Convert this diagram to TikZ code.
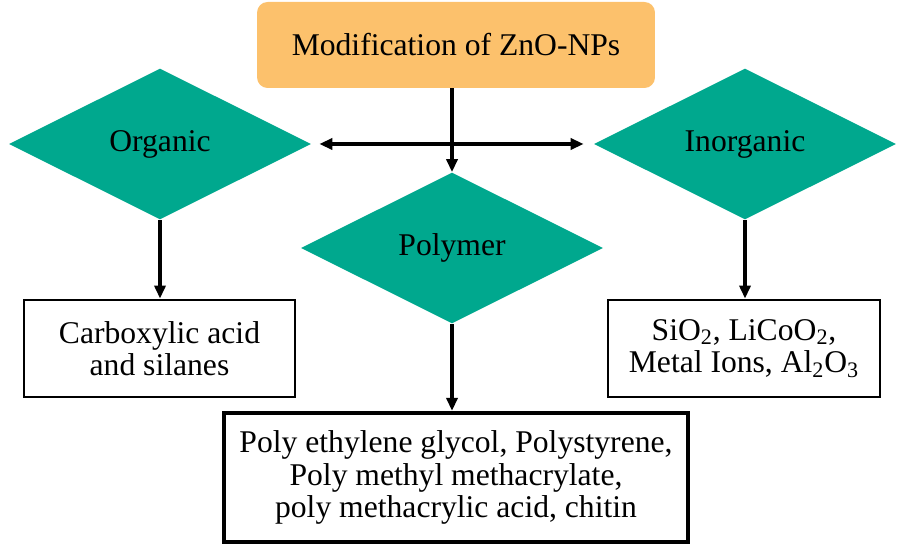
\documentclass[tikz,border=0pt]{standalone}
\usepackage{fontspec}
\setmainfont{Liberation Serif}
\usepackage{tikz}
\usetikzlibrary{arrows.meta,positioning,shapes.geometric}
\definecolor{zngreen}{RGB}{0,168,142}
\definecolor{znorange}{RGB}{252,193,108}
\newcommand{\chemsub}[1]{\textsubscript{#1}}

\begin{document}
\begin{tikzpicture}[>={Triangle[length=2.6mm,width=2.2mm]},x=0.02cm,y=0.02cm,
  every node/.style={font=\fontsize{18}{18.5}\selectfont},
  decision/.style={diamond,fill=zngreen,inner sep=0pt,aspect=2,minimum width=6.04cm,minimum height=3.02cm},
  result/.style={draw,line width=1.6pt,align=center,inner sep=0pt},
  link/.style={->,line width=2pt}]
\useasboundingbox (0,0) rectangle (901,-546);
% Top
\node[fill=znorange,rounded corners=6pt,minimum width=7.96cm,minimum height=1.72cm] (top) at (456,-45) {Modification of ZnO-NPs};
% Branches
\node[decision] (org) at (160,-144) {Organic};
\node[decision] (inorg) at (745,-144) {Inorganic};
\node[decision] (poly) at (452,-248) {Polymer};
% Results
\node[result,minimum width=5.42cm,minimum height=1.94cm] (orgres) at (159.5,-348.5) {Carboxylic acid\\and silanes};
\node[result,minimum width=5.44cm,minimum height=1.94cm] (inorgres) at (744,-348.5) {SiO\chemsub{2}, LiCoO\chemsub{2},\\Metal Ions, Al\chemsub{2}O\chemsub{3}};
\node[result,line width=2.4pt,minimum width=9.28cm,minimum height=2.58cm] (polyres) at (456,-477.5) {Poly ethylene glycol, Polystyrene,\\Poly methyl methacrylate,\\poly methacrylic acid, chitin};
% Arrows
\draw[link,<->,shorten <=0.16cm,shorten >=0.2cm] (org.east) -- (inorg.west);
\draw[link] (poly.north |- top.south) -- (poly.north);
\draw[link] (org.south) -- (org.south |- orgres.north);
\draw[link] (inorg.south) -- (inorg.south |- inorgres.north);
\draw[link] (poly.south) -- (poly.south |- polyres.north);
\end{tikzpicture}
\end{document}
